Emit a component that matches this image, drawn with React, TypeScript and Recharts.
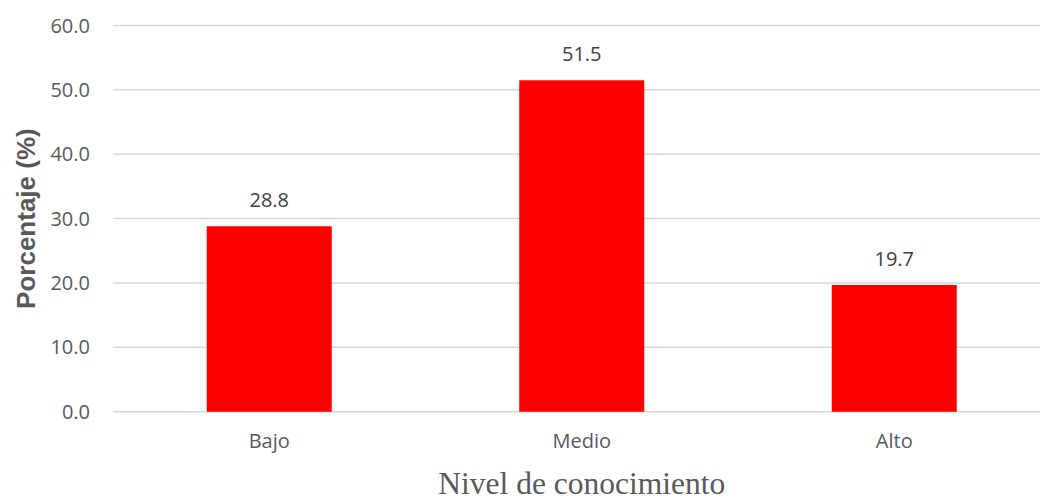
import React from 'react';
import { BarChart, Bar, XAxis, YAxis, CartesianGrid, LabelList, Label } from 'recharts';

const categories = ['Bajo', 'Medio', 'Alto'];
const percentages = [28.8, 51.5, 19.7];
const yTicks = [0, 10, 20, 30, 40, 50, 60];

const data = categories.map((c, i) => ({ name: c, value: percentages[i] }));

const tickFont = { fontFamily: '"Open Sans", sans-serif', fontSize: 20, fill: '#595959' };

const YTitle = (props: any) => {
  const vb = props.viewBox || {};
  const cy = vb.y + vb.height / 2;
  const x = 35;
  return (
    <text
      x={x}
      y={cy}
      transform={`rotate(-90, ${x}, ${cy})`}
      textAnchor="middle"
      fill="#595959"
      style={{ fontFamily: '"Liberation Sans", Arial, sans-serif', fontSize: 26, fontWeight: 'bold' }}
    >
      Porcentaje (%)
    </text>
  );
};

const XTitle = (props: any) => {
  const vb = props.viewBox || {};
  const cx = vb.x + vb.width / 2;
  return (
    <text
      x={cx}
      y={494}
      textAnchor="middle"
      fill="#595959"
      style={{ fontFamily: '"Liberation Serif", "Times New Roman", serif', fontSize: 31.5 }}
    >
      Nivel de conocimiento
    </text>
  );
};

export default function App() {
  return (
    <div style={{ position: 'fixed', left: 0, top: 0, width: 1040, height: 498, overflow: 'hidden', background: '#fff' }}>
      <BarChart
        width={1060}
        height={498}
        data={data}
        margin={{ top: 25.5, right: 9.5, left: 53, bottom: 26.3 }}
        barCategoryGap="30%"
      >
        <CartesianGrid vertical={false} stroke="#d9d9d9" strokeWidth={1.5} />
        <XAxis
          dataKey="name"
          axisLine={false}
          tickLine={false}
          tickSize={0}
          tickMargin={22}
          height={60}
          tick={tickFont}
        >
          <Label content={XTitle} />
        </XAxis>
        <YAxis
          domain={[0, 60]}
          ticks={yTicks}
          interval={0}
          width={60}
          axisLine={false}
          tickLine={false}
          tickSize={0}
          tickMargin={23}
          tick={tickFont}
          tickFormatter={(v: number) => v.toFixed(1)}
        >
          <Label content={YTitle} />
        </YAxis>
        <Bar dataKey="value" fill="#FF0000" isAnimationActive={false}>
          <LabelList
            dataKey="value"
            position="top"
            offset={19}
            formatter={(v: any) => Number(v).toFixed(1)}
            style={{ fontFamily: '"Open Sans", sans-serif', fontSize: 20, fill: '#404040' }}
          />
        </Bar>
      </BarChart>
    </div>
  );
}
